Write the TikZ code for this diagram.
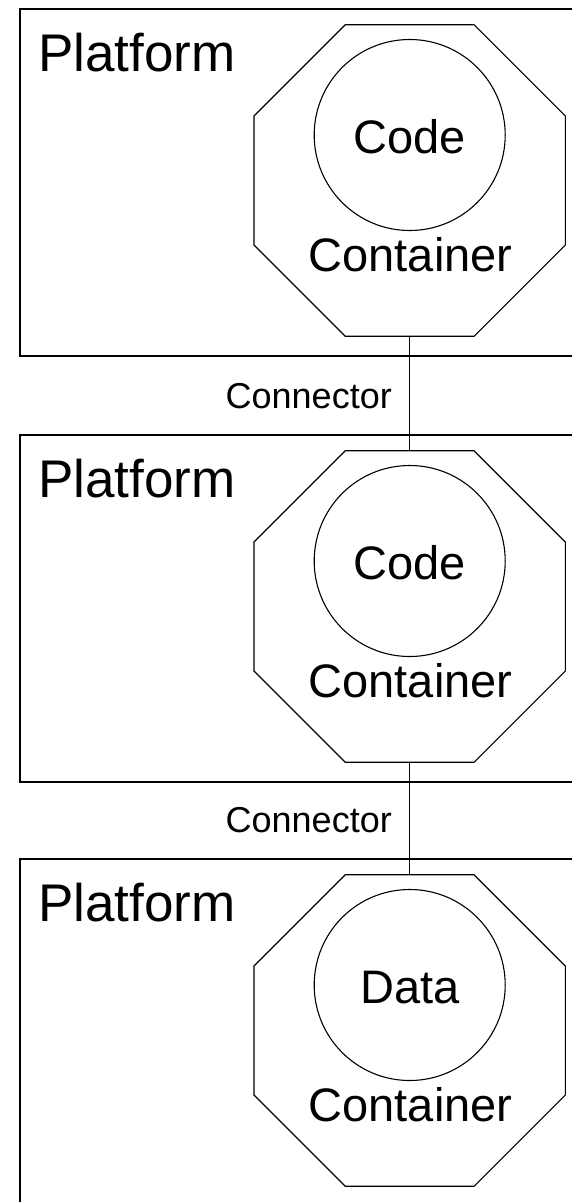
\documentclass[tikz,border=0pt]{standalone}
\usepackage{fontspec}
\setmainfont{Liberation Sans}
\usetikzlibrary{shapes.geometric}
\begin{document}
\begin{tikzpicture}[x=1pt,y=-1pt,
  platbox/.style={draw,line width=1.6pt,rectangle,inner sep=0pt,
    minimum width=581pt,minimum height=347pt,anchor=north west},
  octbox/.style={draw,line width=1.2pt,regular polygon,regular polygon sides=8,
    inner sep=0pt,minimum size=337pt},
  codecircle/.style={draw,line width=1.1pt,circle,inner sep=0pt,minimum size=191pt},
  platlabel/.style={inner sep=0pt,anchor=base west,font=\fontsize{53}{60}\selectfont},
  inlabel/.style={inner sep=0pt,anchor=base,font=\fontsize{47}{56}\selectfont},
  connlabel/.style={inner sep=0pt,anchor=base east,font=\fontsize{36}{42}\selectfont},
  link/.style={draw,line width=1.3pt}]
\useasboundingbox (0,0) rectangle (572,1202);
\clip (0,0) rectangle (572,1202);
\fill[white] (0,0) rectangle (572,1202);

% three platform tiers
\foreach \i/\dy in {1/0,2/426,3/850}{
  \node[platbox] (plat\i) at (19,8+\dy) {};
  \node[platlabel] (platname\i) at (38,71+\dy) {Platform};
  \node[octbox] (cont\i) at (409.7,180.5+\dy) {};
  \node[codecircle] (unit\i) at (409.7,135+\dy) {};
  \node[inlabel] (contname\i) at (410.5,271.7+\dy) {Container};
}
\node[inlabel] (unitname1) at (409.5,153) {Code};
\node[inlabel] (unitname2) at (409.5,579) {Code};
\node[inlabel] (unitname3) at (410.5,1003.3) {Data};

% connectors between the containers
\draw[link] (cont1.south) -- (cont2.north);
\draw[link] (cont2.south) -- (cont3.north);
\node[connlabel] (conn1) at (392,408) {Connector};
\node[connlabel] (conn2) at (392,832.7) {Connector};
\end{tikzpicture}
\end{document}
